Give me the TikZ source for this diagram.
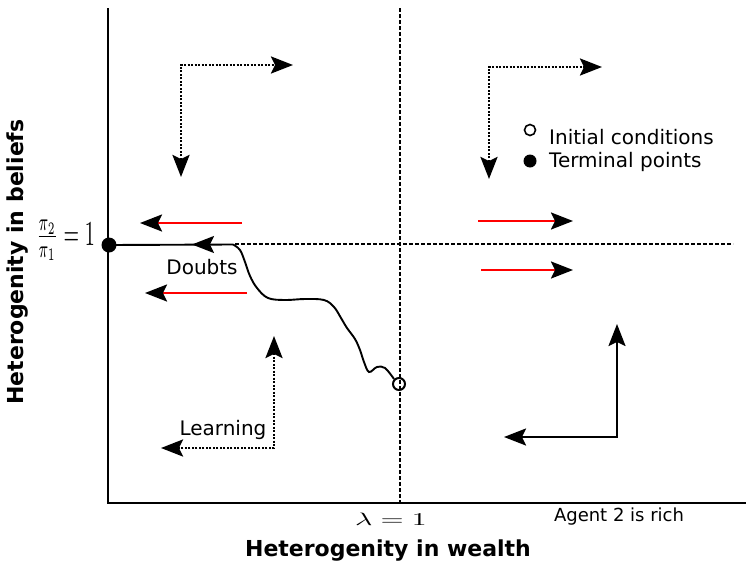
\documentclass[tikz,border=0pt]{standalone}
\usepackage[no-math]{fontspec}
\newfontfamily\dv{DejaVu Sans}
\usetikzlibrary{arrows.meta}
\tikzset{
  bighead/.tip={Stealth[length=22pt,width=17pt,inset=4pt]},
  axisline/.style={line width=2.2pt},
  guide/.style={line width=2pt, dash pattern=on 4pt off 2pt},
  dotarrow/.style={line width=2.6pt, dash pattern=on 2pt off 1.5pt, bighead-bighead},
  solidarrow/.style={line width=2.2pt, bighead-bighead},
  redarrow/.style={red, line width=2.3pt, -{Stealth[black,length=22pt,width=17pt,inset=4pt]}},
  traj/.style={line width=1.9pt},
  lbl/.style={font=\dv\fontsize{20}{24}\selectfont, inner sep=0pt},
  axlbl/.style={font=\dv\bfseries\fontsize{22}{26}\selectfont, inner sep=0pt},
  small/.style={font=\dv\fontsize{18}{21}\selectfont, inner sep=0pt},
}
\begin{document}
\begin{tikzpicture}[x=1pt,y=-1pt]
\useasboundingbox (0,0) rectangle (746,565);
% axes
\coordinate (ytop) at (108,8);
\coordinate (orig) at (108,503);
\coordinate (xend) at (746,503);
\draw[axisline] (ytop) -- (orig) -- (xend);
% guides
\coordinate (vtop) at (400,8);
\coordinate (vbot) at (400,503);
\coordinate (hstart) at (235,244);
\coordinate (hend) at (733,244);
\draw[guide] (vtop) -- (vbot);
\draw[guide] (hstart) -- (hend);
% trajectory
\node[circle, draw, line width=2pt, minimum size=12pt, inner sep=0pt] (init) at (399,384) {};
\node[circle, fill, minimum size=15pt, inner sep=0pt] (term) at (109,245) {};
\draw[traj] plot[smooth, tension=0.6] coordinates {(394,379) (385,368) (377,367) (369,372) (364,362) (360,350) (355,339) (347,328) (341,318) (334,307) (324,300) (305,299) (285,300) (268,298) (257,288) (250,276) (245,262) (240,250) (233,244.5)};
\coordinate (hj) at (233,244.5);
\draw[traj] (hj) -- (term.center);
\coordinate (ta) at (216,244.5);
\coordinate (tb) at (192,244.5);
\draw[traj, -bighead] (ta) -- (tb);
% red arrows
\coordinate (r1a) at (242,223); \coordinate (r1b) at (140,223);
\coordinate (r2a) at (247,293); \coordinate (r2b) at (145,293);
\coordinate (r3a) at (478,221); \coordinate (r3b) at (573,221);
\coordinate (r4a) at (481,270); \coordinate (r4b) at (573,270);
\draw[redarrow] (r1a) -- (r1b);
\draw[redarrow] (r2a) -- (r2b);
\draw[redarrow] (r3a) -- (r3b);
\draw[redarrow] (r4a) -- (r4b);
% dotted arrows
\coordinate (d1v) at (181,177); \coordinate (d1h) at (293,65);
\draw[dotarrow] (d1v) |- (d1h);
\coordinate (d2v) at (489,179); \coordinate (d2h) at (602,67);
\draw[dotarrow] (d2v) |- (d2h);
\coordinate (d3v) at (274,336); \coordinate (d3h) at (161,448);
\draw[dotarrow] (d3v) |- (d3h);
% solid arrows
\coordinate (s1v) at (617,324); \coordinate (s1h) at (504,437);
\draw[solidarrow] (s1v) |- (s1h);
% legend
\node[circle, draw, line width=1.6pt, minimum size=11pt, inner sep=0pt] (lo) at (530,130) {};
\node[circle, fill, minimum size=13pt, inner sep=0pt] (lf) at (530,161) {};
\node[lbl, anchor=west] (lt1) at (549,137) {Initial conditions};
\node[lbl, anchor=west] (lt2) at (549,162) {Terminal points};
% labels
\node[lbl] (doubts) at (202,267) {Doubts};
\node[lbl] (learning) at (223,430) {Learning};
\node[small] (agent) at (619,517) {Agent 2 is rich};
\node[inner sep=0pt] (lam) at (391,519) {\scalebox{2.97}[1.8]{$\lambda=1$}};
\node[inner sep=0pt, anchor=base east] (pil) at (95,245) {\scalebox{2.0}[3.5]{$\frac{\pi_2}{\pi_1}=1$}};
\node[axlbl] (xl) at (388,551) {Heterogenity in wealth};
\node[axlbl, rotate=90] (yl) at (18,262) {Heterogenity in beliefs};
\end{tikzpicture}
\end{document}
